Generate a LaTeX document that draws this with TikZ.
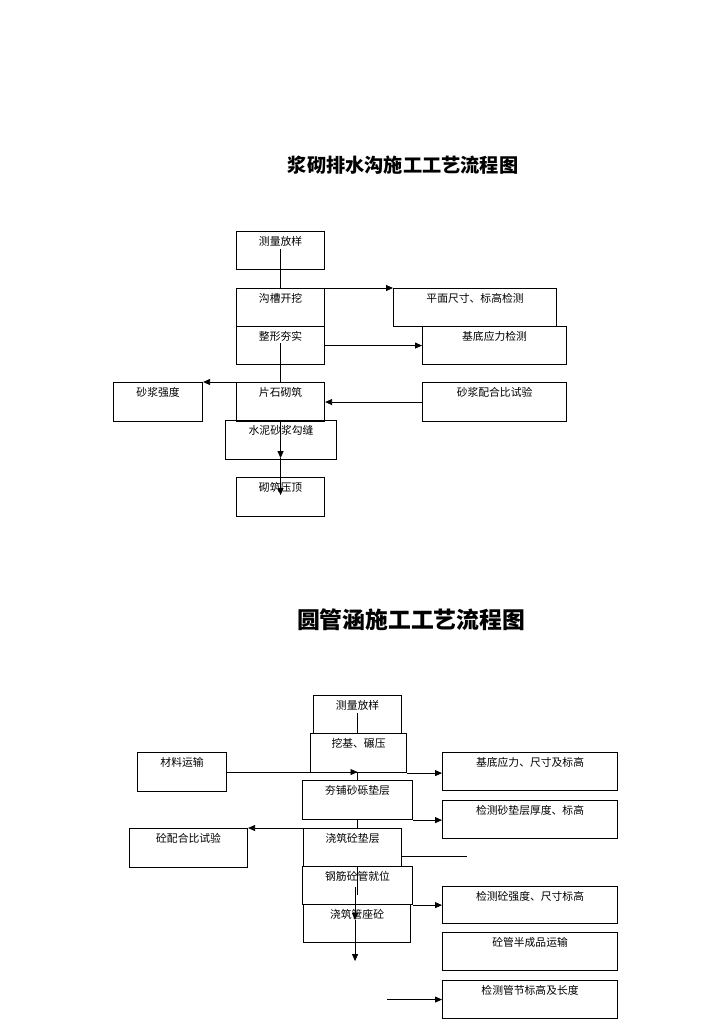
\documentclass[tikz,border=0pt]{standalone}
\usepackage{fontspec}
\setmainfont{Noto Sans CJK SC}
\newfontfamily\cjk{Noto Sans CJK SC}
\usetikzlibrary{calc,arrows.meta}
\tikzset{
  box/.style={draw=black, line width=1.1pt, inner sep=0pt, anchor=north west, font=\cjk\fontsize{10.8}{12}\selectfont},
  conn/.style={draw=black, line width=0.8pt},
  arr/.style={conn, -{Triangle[length=7pt,width=6pt]}},
  ttl/.style={font=\cjk\bfseries}
}
% \bx{name}{x1}{y1}{x2}{y2}{text}
\newcommand{\bx}[6]{%
  \pgfmathsetmacro{\bw}{#4-#2}\pgfmathsetmacro{\bh}{#5-#3}%
  \node[box, minimum width=\bw pt, minimum height=\bh pt] (#1) at (#2,#3)
    {\parbox[c][\bh pt][t]{\bw pt}{\centering\rule{0pt}{14pt}#6}};}
\begin{document}
\begin{tikzpicture}[x=1pt,y=-1pt]
\useasboundingbox (0,0) rectangle (724,1024);
\fill[white] (0,0) rectangle (724,1024);
% ---------- Diagram 1 ----------
\node[ttl, font=\cjk\bfseries\fontsize{19.2}{22}\selectfont] (t1) at (403,165) {浆砌排水沟施工工艺流程图};
\bx{a1}{236}{231}{324}{269}{测量放样}
\bx{a2}{236}{288}{324}{326}{沟槽开挖}
\bx{a3}{236}{326}{324}{364}{整形夯实}
\bx{r1}{393}{288}{556}{326}{平面尺寸、标高检测}
\bx{r2}{422}{326}{566}{364}{基底应力检测}
\bx{l1}{113}{382}{202}{421}{砂浆强度}
\bx{a4}{236}{382}{324}{421}{片石砌筑}
\bx{r3}{422}{382}{566}{421}{砂浆配合比试验}
\bx{a5}{225}{420}{336}{459}{水泥砂浆勾缝}
\bx{a6}{236}{477}{324}{516}{砌筑压顶}
\draw[conn] ($(a1.north)+(0,18)$) -- (a2.north);
\draw[arr] (a2.north east) -- (r1.north west);
\draw[arr] (a3.east) -- (r2.west);
\draw[conn] ($(a3.north)+(0,17)$) -- (a4.north);
\draw[arr] (a4.north west) -- (l1.north east);
\draw[arr] (r3.west) -- (r3.west -| a4.east);
\draw[arr] (a6.north |- a5.north) -- ($(a6.north |- a5.south)+(0,-2)$) coordinate (a5m);
\draw[arr] (a5m) -- ($(a6.north)+(0,18)$);
% ---------- Diagram 2 ----------
\node[ttl, font=\cjk\bfseries\fontsize{22.8}{26}\selectfont] (t2) at (411,620) {圆管涵施工工艺流程图};
\bx{b1}{313}{695}{401}{733}{测量放样}
\bx{b2}{310}{733}{406}{772}{挖基、碾压}
\bx{cl}{137}{752}{226}{791}{材料运输}
\bx{j1}{442}{752}{617}{790}{基底应力、尺寸及标高}
\bx{b3}{302}{780}{412}{819}{夯铺砂砾垫层}
\bx{j2}{442}{800}{617}{838}{检测砂垫层厚度、标高}
\bx{h1}{129}{828}{247}{867}{砼配合比试验}
\bx{b4}{303}{828}{401}{866}{浇筑砼垫层}
\bx{b5}{302}{866}{412}{904}{钢筋砼管就位}
\bx{j3}{442}{886}{617}{923}{检测砼强度、尺寸标高}
\bx{b6}{303}{904}{410}{942}{浇筑管座砼}
\bx{j4}{442}{932}{617}{970}{砼管半成品运输}
\bx{j5}{442}{980}{617}{1018}{检测管节标高及长度}
\draw[conn] ($(b1.north)+(0,18)$) -- (b1.south);
\draw[arr] (cl.east) -- (cl.east -| b1.south);
\draw[arr] (b2.south east) -- (b2.south east -| j1.west);
\draw[conn] (b1.south |- b2.south) -- (b3.north);
\draw[arr] (b3.south east) -- (b3.south east -| j2.west);
\draw[conn] (b3.south) -- (b3.south |- b4.north);
\draw[arr] (b4.north west) -- (h1.north east);
\coordinate (free1) at (467,856);
\draw[conn] (b4.east |- free1) -- (free1);
\draw[conn] (b5.north) -- ($(b5.north)+(0,29)$);
\draw[arr] ($(b6.north)+(-2,-17)$) -- ($(b6.north)+(-2,16)$) coordinate (b6m);
\draw[arr] (b6m) -- ($(b6.south)+(-2,18)$);
\draw[arr] (b5.south east) -- (b5.south east -| j3.west);
\coordinate (free2) at ($(j5.west)+(-55,0)$);
\draw[arr] (free2) -- (j5.west);
\end{tikzpicture}
\end{document}
